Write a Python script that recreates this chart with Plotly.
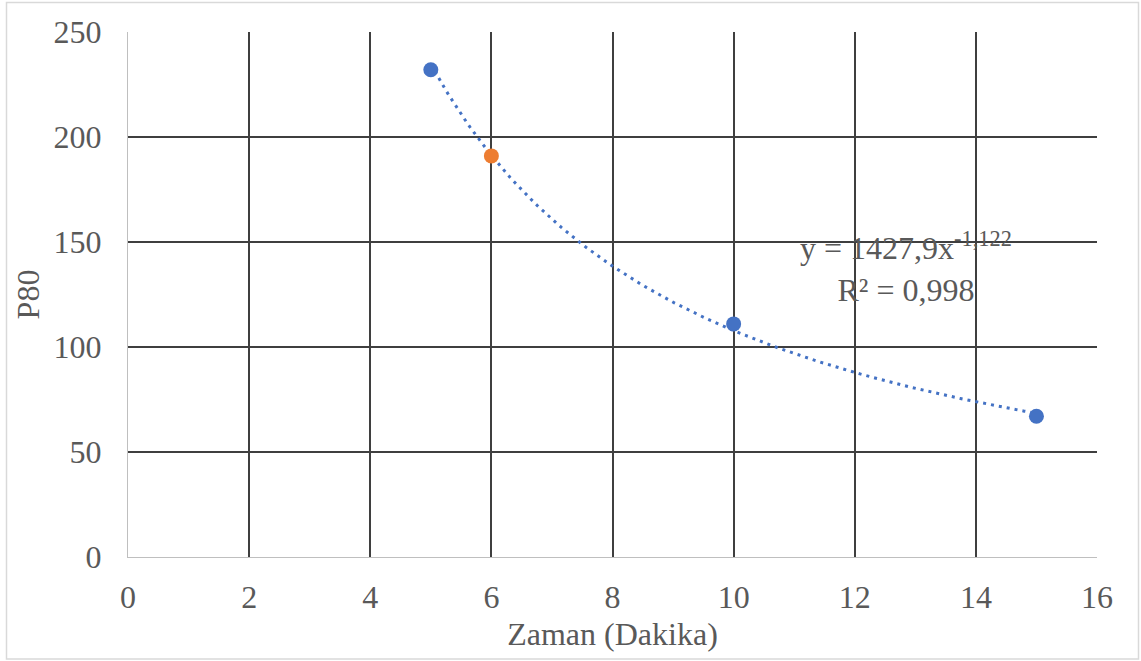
import numpy as np
import plotly.graph_objects as go

# Measured data
zaman = [5, 10, 15]
p80 = [232, 111, 67]
zaman_highlight = [6]
p80_highlight = [191]

# Power-law trendline coefficients (y = a * x^b)
coef_a = 1427.9
coef_b = -1.122
r_squared = 0.998

x_ticks = [0, 2, 4, 6, 8, 10, 12, 14, 16]
y_ticks = [0, 50, 100, 150, 200, 250]

FONT = "Liberation Serif"
TEXT_COLOR = "#595959"
GRID_COLOR = "#3F3F3F"
AXIS_COLOR = "#BFBFBF"

all_x = sorted(zaman + zaman_highlight)
trend_x = np.linspace(min(all_x), max(all_x), 200)
trend_y = coef_a * trend_x ** coef_b

fig = go.Figure()

fig.add_trace(go.Scatter(
    x=trend_x, y=trend_y, mode="lines",
    line=dict(color="#4472C4", width=3, dash="3px,5px"),
    hoverinfo="skip", showlegend=False,
))
fig.add_trace(go.Scatter(
    x=zaman, y=p80, mode="markers",
    marker=dict(color="#4472C4", size=15),
    showlegend=False,
))
fig.add_trace(go.Scatter(
    x=zaman_highlight, y=p80_highlight, mode="markers",
    marker=dict(color="#ED7D31", size=15),
    showlegend=False,
))

a_txt = f"{coef_a:.1f}".replace(".", ",")
b_txt = f"{coef_b:.3f}".replace(".", ",")
r_txt = f"{r_squared:.3f}".replace(".", ",")
fig.add_annotation(
    x=12.85, y=138, xref="x", yref="y",
    text=f"y = {a_txt}x<sup>{b_txt}</sup><br>R² = {r_txt}",
    showarrow=False, align="center",
    font=dict(family=FONT, size=32, color=TEXT_COLOR),
)

# Outer chart border
fig.add_shape(
    type="rect", xref="paper", yref="paper",
    x0=(6.5 - 128) / 969, x1=(1138.5 - 128) / 969,
    y0=(557 - 659) / 525, y1=(557 - 2.5) / 525,
    line=dict(color="#D9D9D9", width=1.5), fillcolor="rgba(0,0,0,0)",
    layer="below",
)

fig.update_xaxes(
    range=[0, 16], tickvals=x_ticks, ticks="",
    showgrid=True, gridcolor=GRID_COLOR, gridwidth=1.6,
    showline=True, linecolor=AXIS_COLOR, linewidth=1.3, zeroline=False,
    tickfont=dict(family=FONT, size=32, color=TEXT_COLOR),
    ticklabelstandoff=11,
    title=dict(text="Zaman (Dakika)", font=dict(family=FONT, size=32, color=TEXT_COLOR), standoff=9),
)
fig.update_yaxes(
    range=[0, 250], tickvals=y_ticks, ticks="",
    showgrid=True, gridcolor=GRID_COLOR, gridwidth=1.6,
    showline=True, linecolor=AXIS_COLOR, linewidth=1.3, zeroline=False,
    tickfont=dict(family=FONT, size=32, color=TEXT_COLOR),
    ticklabelstandoff=19,
    title=dict(text="P80", font=dict(family=FONT, size=32, color=TEXT_COLOR), standoff=4),
)

fig.update_layout(
    width=1141, height=661,
    margin=dict(l=128, r=44, t=32, b=104),
    paper_bgcolor="white", plot_bgcolor="white",
    font=dict(family=FONT, color=TEXT_COLOR),
)

fig.write_html("out.html")
